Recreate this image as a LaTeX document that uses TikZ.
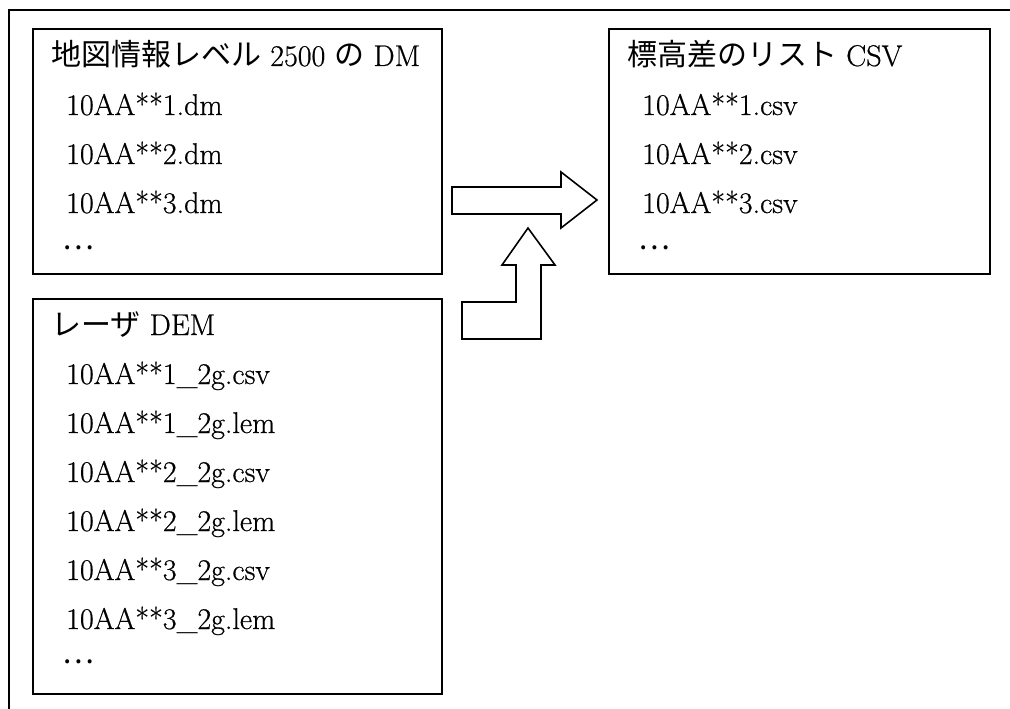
\documentclass[tikz,border=0pt]{standalone}
\usepackage{fontspec}
\setmainfont{Latin Modern Roman}[FakeBold=0.6]
\newfontfamily\jp{Noto Sans CJK JP}
\tikzset{
  frame/.style={line width=1.6pt, draw=black},
  txt/.style={anchor=base west, inner sep=0pt, font=\fontsize{30}{36}\selectfont},
  dots/.style={anchor=west, inner sep=0pt, font=\fontsize{30}{36}\selectfont\jp},
  bigarrow/.style={line width=1.6pt, draw=black, fill=white, line join=miter}
}
\begin{document}
\begin{tikzpicture}[x=1pt,y=-1pt]
\useasboundingbox (0,0) rectangle (1010,709);
\fill[white] (0,0) rectangle (1010,709);
% outer frame (right and bottom edges lie beyond the picture)
\draw[frame] (9,10) rectangle (1030,730);
% boxes
\draw[frame] (33,29) rectangle (442,274);
\draw[frame] (33,299) rectangle (442,694);
\draw[frame] (609,29) rectangle (990,274);
% top-left box text
\node[txt] (t1) at (51,66) {{\jp 地図情報レベル} 2500 {\jp の} DM};
\node[txt] (t1a) at (66,115) {10AA**1.dm};
\node[txt] (t1b) at (66,164) {10AA**2.dm};
\node[txt] (t1c) at (66,213) {10AA**3.dm};
\node[dots] (t1d) at (62,248) {…};
% right box text
\node[txt] (t2) at (627,66) {{\jp 標高差のリスト} CSV};
\node[txt] (t2a) at (642,115) {10AA**1.csv};
\node[txt] (t2b) at (642,164) {10AA**2.csv};
\node[txt] (t2c) at (642,213) {10AA**3.csv};
\node[dots] (t2d) at (638,248) {…};
% lower-left box text
\node[txt] (t3) at (51,335) {{\jp レーザ} DEM};
\node[txt] (t3a) at (66,384) {10AA**1\_2g.csv};
\node[txt] (t3b) at (66,433) {10AA**1\_2g.lem};
\node[txt] (t3c) at (66,482) {10AA**2\_2g.csv};
\node[txt] (t3d) at (66,531) {10AA**2\_2g.lem};
\node[txt] (t3e) at (66,580) {10AA**3\_2g.csv};
\node[txt] (t3f) at (66,629) {10AA**3\_2g.lem};
\node[dots] (t3g) at (62,662) {…};
% block arrows
\draw[bigarrow] (452,187) -- (561,187) -- (561,172) -- (597,200) -- (561,228) -- (561,214) -- (452,214) -- cycle;
\draw[bigarrow] (462,302) -- (516,302) -- (516,265) -- (502,265) -- (528,228) -- (555,265) -- (541,265) -- (541,339) -- (462,339) -- cycle;
\end{tikzpicture}
\end{document}
